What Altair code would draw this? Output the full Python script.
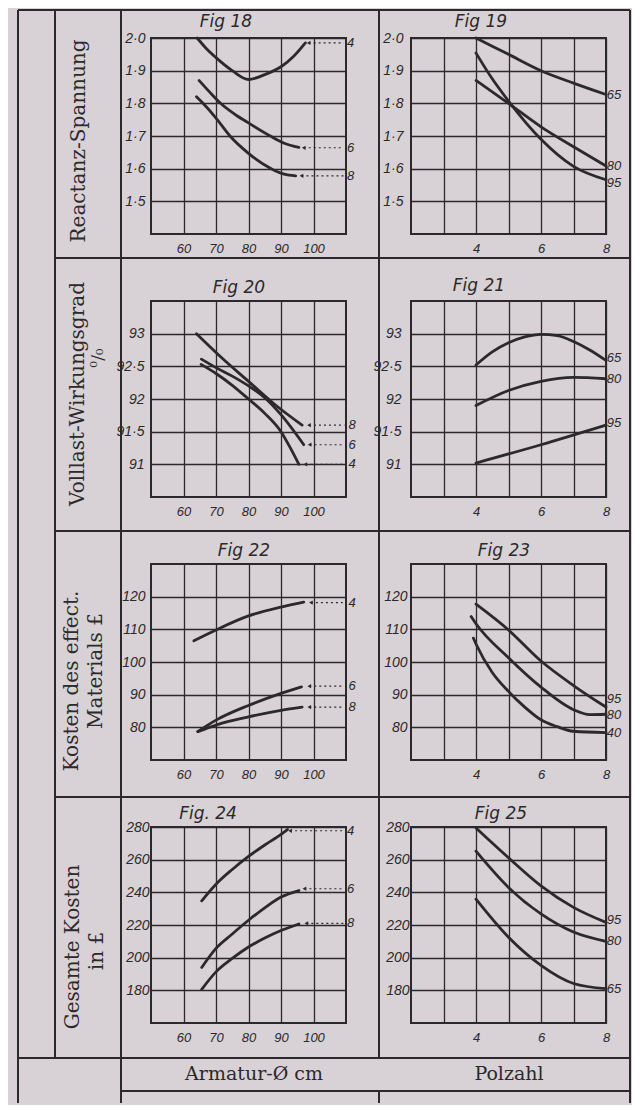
import altair as alt
import pandas as pd

INK = "#2b292c"
BG = "#d8d1d5"
SERIF = "DejaVu Serif"
HAND = "Liberation Sans"

# ---------------- data ----------------
# Fig 18  Reactanz-Spannung vs Armatur-Ø, curves for Polzahl 4, 6, 8
f18_4_x = [64.2, 67, 70, 75, 80, 85, 90, 94, 97.5]
f18_4_y = [2.0, 1.968, 1.94, 1.90, 1.873, 1.888, 1.912, 1.945, 1.985]
f18_6_x = [64.8, 68, 71.4, 76, 80, 86.7, 91, 95.5]
f18_6_y = [1.87, 1.835, 1.80, 1.765, 1.74, 1.70, 1.678, 1.665]
f18_8_x = [64, 66, 70, 74.3, 80, 87, 91, 94.5]
f18_8_y = [1.82, 1.80, 1.755, 1.70, 1.647, 1.60, 1.583, 1.578]

# Fig 19  Reactanz-Spannung vs Polzahl, curves for Armatur 65, 80, 95
f19_65_x = [4, 5, 6, 7, 8]
f19_65_y = [2.0, 1.95, 1.90, 1.862, 1.827]
f19_80_x = [4, 5, 6, 7, 8]
f19_80_y = [1.87, 1.80, 1.728, 1.667, 1.608]
f19_95_x = [4, 4.5, 5, 6, 7, 8]
f19_95_y = [1.954, 1.875, 1.807, 1.69, 1.607, 1.566]

# Fig 20  Volllast-Wirkungsgrad vs Armatur-Ø
f20_8_x = [64, 72, 80, 88, 96.5]
f20_8_y = [93.0, 92.62, 92.27, 91.92, 91.6]
f20_6_x = [65.5, 70, 75, 80, 85, 90, 97]
f20_6_y = [92.61, 92.48, 92.35, 92.2, 92.02, 91.76, 91.3]
f20_4_x = [65.4, 70, 75, 80, 85, 90, 93, 95.5]
f20_4_y = [92.53, 92.39, 92.21, 92.0, 91.78, 91.5, 91.24, 91.0]

# Fig 21  Volllast-Wirkungsgrad vs Polzahl
f21_65_x = [4, 4.5, 5, 5.5, 6, 6.5, 7, 7.5, 8]
f21_65_y = [92.52, 92.72, 92.86, 92.95, 92.99, 92.97, 92.88, 92.75, 92.59]
f21_80_x = [4, 5, 6, 7, 8]
f21_80_y = [91.9, 92.13, 92.27, 92.33, 92.31]
f21_95_x = [4, 6, 8]
f21_95_y = [91.02, 91.3, 91.6]

# Fig 22  Kosten des effect. Materials vs Armatur-Ø
f22_4_x = [63.2, 70, 80, 90, 97]
f22_4_y = [106.5, 109.8, 114.1, 116.8, 118.3]
f22_6_x = [64.4, 70, 80, 90, 96.3]
f22_6_y = [78.7, 82.2, 86.7, 90.4, 92.4]
f22_8_x = [64.4, 70, 80, 90, 96.5]
f22_8_y = [78.7, 80.7, 83.2, 85.2, 86.2]

# Fig 23  Kosten des effect. Materials vs Polzahl
f23_95_x = [4, 5, 6, 7, 8]
f23_95_y = [117.7, 109.8, 100.3, 92.8, 86.2]
f23_80_x = [3.85, 4, 5, 6, 7, 7.5, 8]
f23_80_y = [113.9, 111.7, 101.3, 92.3, 85.4, 83.9, 84.0]
f23_40_x = [3.92, 4, 4.5, 5, 5.5, 6, 6.5, 7, 8]
f23_40_y = [107.3, 105.5, 96.8, 91.0, 86.2, 82.3, 80.2, 78.8, 78.4]

# Fig 24  Gesamte Kosten vs Armatur-Ø
f24_4_x = [65.6, 70, 75, 80, 85, 90, 92]
f24_4_y = [234.8, 245, 254, 262, 269, 275.5, 278.5]
f24_6_x = [65.6, 70, 75, 80, 85, 90, 95.5]
f24_6_y = [194, 205.7, 214.5, 222.9, 230.5, 237.1, 241.1]
f24_8_x = [65.6, 70, 75, 80, 85, 90, 95.5]
f24_8_y = [180.6, 191.3, 199.5, 206.5, 212, 216.6, 220.6]

# Fig 25  Gesamte Kosten vs Polzahl
f25_95_x = [4, 5, 6, 7, 8]
f25_95_y = [279.4, 261.2, 244, 230.8, 221.6]
f25_80_x = [4, 5, 6, 7, 8]
f25_80_y = [265.2, 243, 226.8, 215.7, 210]
f25_65_x = [4, 5, 6, 7, 8]
f25_65_y = [235.8, 212.5, 195.3, 184.2, 181]

# curve end labels (text, label x, label y) and dotted leaders (start x, end x)
f18_lab = [("4", 110.3, 1.985, 98.5, 109.3), ("6", 110.3, 1.664, 97.0, 109.3), ("8", 110.3, 1.578, 96.3, 109.3)]
f20_lab = [("8", 110.8, 91.6, 98.6, 109.5), ("6", 110.8, 91.3, 98.8, 109.5), ("4", 110.8, 91.0, 97.5, 109.5)]
f22_lab = [("4", 110.8, 118.2, 99.2, 109.0), ("6", 110.8, 92.6, 98.7, 109.0), ("8", 110.8, 86.2, 98.7, 109.0)]
f24_lab = [("4", 110.3, 277.7, 92.8, 109.3), ("6", 110.3, 242.2, 97.2, 109.3), ("8", 110.3, 221.0, 97.8, 109.3)]
f19_lab = [("65", 8.02, 1.827), ("80", 8.02, 1.607), ("95", 8.02, 1.556)]
f21_lab = [("65", 8.02, 92.63), ("80", 8.02, 92.31), ("95", 8.02, 91.63)]
f23_lab = [("95", 8.02, 88.6), ("80", 8.02, 83.8), ("40", 8.02, 78.4)]
f25_lab = [("95", 8.02, 223.0), ("80", 8.02, 210.5), ("65", 8.02, 181.0)]

# axes
X_ARM = dict(domain=[50, 110], values=[60, 70, 80, 90, 100], expr="format(datum.value, 'd')")
X_POL = dict(domain=[2, 8], values=[3, 4, 5, 6, 7, 8],
             expr="datum.value % 2 == 0 ? format(datum.value, 'd') : ''")
Y_RS = dict(domain=[1.4, 2.0], values=[1.5, 1.6, 1.7, 1.8, 1.9, 2.0],
            expr="replace(format(datum.value, '.1f'), '.', '·')")
Y_EFF = dict(domain=[90.5, 93.5], values=[91, 91.5, 92, 92.5, 93],
             expr="datum.value % 1 == 0 ? format(datum.value, 'd') : replace(format(datum.value, '.1f'), '.', '·')")
Y_MAT = dict(domain=[70, 130], values=[80, 90, 100, 110, 120], expr="format(datum.value, 'd')")
Y_TOT = dict(domain=[160, 280], values=[180, 200, 220, 240, 260, 280], expr="format(datum.value, 'd')")

ONE = pd.DataFrame({"k": [0]})


def series_df(series):
    rows = []
    for name, xs, ys in series:
        for i, (a, b) in enumerate(zip(xs, ys)):
            rows.append({"s": name, "x": a, "y": b, "i": i})
    return pd.DataFrame(rows)


def rule(x1, x2, y1, y2, w=2.0):
    return alt.Chart(ONE).mark_rule(color=INK, strokeWidth=w).encode(
        x=alt.value(x1), x2=alt.value(x2), y=alt.value(y1), y2=alt.value(y2))


def txt(text, x, y, size, angle=0, font=SERIF, style="normal"):
    return alt.Chart(ONE).mark_text(
        text=text, angle=angle, font=font, fontSize=size, fontStyle=style,
        color=INK, align="center", baseline="middle").encode(x=alt.value(x), y=alt.value(y))


def panel(title, tpos, xd, yd, series, end_labels, leaders, ypad, extra=None):
    xs = alt.Scale(domain=xd["domain"], nice=False, zero=False)
    ys = alt.Scale(domain=yd["domain"], nice=False, zero=False)
    xax = alt.Axis(values=xd["values"], labelExpr=xd["expr"], grid=True, gridColor=INK,
                   gridWidth=1.3, gridOpacity=1, domain=False, ticks=False, tickSize=0,
                   labelFont=HAND, labelFontStyle="italic", labelFontSize=13, labelColor=INK,
                   labelPadding=8, labelFlush=False, labelOverlap=False, title=None)
    yax = alt.Axis(values=yd["values"], labelExpr=yd["expr"], grid=True, gridColor=INK,
                   gridWidth=1.3, gridOpacity=1, domain=False, ticks=False, tickSize=0,
                   labelFont=HAND, labelFontStyle="italic", labelFontSize=14, labelColor=INK,
                   labelPadding=ypad, labelFlush=False, labelOverlap=False, title=None)
    df = series_df(series)
    lines = alt.Chart(df).mark_line(interpolate="monotone", color=INK, strokeWidth=2.8,
                                    strokeCap="round").encode(
        x=alt.X("x:Q", scale=xs, axis=xax), y=alt.Y("y:Q", scale=ys, axis=yax),
        detail="s:N", order="i:Q")
    layers = [lines]
    ldf = pd.DataFrame({"t": [l[0] for l in end_labels], "x": [l[1] for l in end_labels],
                        "y": [l[2] for l in end_labels]})
    layers.append(alt.Chart(ldf).mark_text(align="left", baseline="middle", font=HAND,
                                           fontStyle="italic", fontSize=13, color=INK).encode(
        x=alt.X("x:Q", scale=xs, axis=xax), y=alt.Y("y:Q", scale=ys, axis=yax), text="t:N"))
    if leaders:
        adf = pd.DataFrame({"x": [l[3] for l in end_labels], "xe": [l[4] for l in end_labels],
                            "y": [l[2] for l in end_labels]})
        layers.append(alt.Chart(adf).mark_rule(color=INK, strokeWidth=1.2, strokeDash=[2, 3]).encode(
            x=alt.X("x:Q", scale=xs, axis=xax), x2="xe:Q", y=alt.Y("y:Q", scale=ys, axis=yax)))
        layers.append(alt.Chart(adf).mark_point(shape="triangle-left", filled=True, size=18,
                                                color=INK, opacity=1).encode(
            x=alt.X("x:Q", scale=xs, axis=xax), y=alt.Y("y:Q", scale=ys, axis=yax)))
    layers.append(txt(title, tpos[0], tpos[1], 17, font="DejaVu Sans", style="italic"))
    if extra:
        layers.extend(extra)
    return alt.layer(*layers).properties(width=195, height=196)


# table ruling, row headings and column headings (pixel offsets from Fig 18's plot corner)
table = [
    rule(-133, -133, -28, 1065), rule(-96, -96, -28, 1020), rule(-30, -30, -28, 1065),
    rule(228, 228, -28, 1020), rule(228, 228, 1053, 1065), rule(479, 479, -28, 1065),
    rule(-133, 479, -28, -28), rule(-96, 479, 220, 220), rule(-96, 479, 493, 493),
    rule(-96, 479, 759, 759), rule(-133, 479, 1020, 1020), rule(-30, 479, 1053, 1053),
    txt("Reactanz-Spannung", -72, 103, 20, angle=270),
    txt("Volllast-Wirkungsgrad", -73, 356, 20, angle=270),
    txt("⁰/₀", -53, 320, 17, angle=270),
    txt("Kosten des effect.", -79, 643, 20, angle=270),
    txt("Materials £", -55, 633, 20, angle=270),
    txt("Gesamte Kosten", -78, 909, 20, angle=270),
    txt("in £", -54, 913, 20, angle=270),
    txt("Armatur-Ø cm", 103, 1036, 19),
    txt("Polzahl", 358, 1036, 19),
]

p18 = panel("Fig 18", (75, -16), X_ARM, Y_RS,
            [("4", f18_4_x, f18_4_y), ("6", f18_6_x, f18_6_y), ("8", f18_8_x, f18_8_y)],
            f18_lab, True, 6, extra=table)
p19 = panel("Fig 19", (70, -16), X_POL, Y_RS,
            [("65", f19_65_x, f19_65_y), ("80", f19_80_x, f19_80_y), ("95", f19_95_x, f19_95_y)],
            f19_lab, False, 8)
p20 = panel("Fig 20", (88, -13), X_ARM, Y_EFF,
            [("8", f20_8_x, f20_8_y), ("6", f20_6_x, f20_6_y), ("4", f20_4_x, f20_4_y)],
            f20_lab, True, 7)
p21 = panel("Fig 21", (68, -15), X_POL, Y_EFF,
            [("65", f21_65_x, f21_65_y), ("80", f21_80_x, f21_80_y), ("95", f21_95_x, f21_95_y)],
            f21_lab, False, 10)
p22 = panel("Fig 22", (93, -13), X_ARM, Y_MAT,
            [("4", f22_4_x, f22_4_y), ("6", f22_6_x, f22_6_y), ("8", f22_8_x, f22_8_y)],
            f22_lab, True, 6)
p23 = panel("Fig 23", (93, -13), X_POL, Y_MAT,
            [("95", f23_95_x, f23_95_y), ("80", f23_80_x, f23_80_y), ("40", f23_40_x, f23_40_y)],
            f23_lab, False, 4)
p24 = panel("Fig. 24", (57, -13), X_ARM, Y_TOT,
            [("4", f24_4_x, f24_4_y), ("6", f24_6_x, f24_6_y), ("8", f24_8_x, f24_8_y)],
            f24_lab, True, 2)
p25 = panel("Fig 25", (90, -13), X_POL, Y_TOT,
            [("95", f25_95_x, f25_95_y), ("80", f25_80_x, f25_80_y), ("65", f25_65_x, f25_65_y)],
            f25_lab, False, 2)

chart = alt.concat(p18, p19, p20, p21, p22, p23, p24, p25, columns=2,
                   spacing={"row": 67, "column": 65}, bounds="flush").properties(
    padding={"left": 8, "top": 0, "right": 0, "bottom": 0}, background=BG
).configure_view(stroke=INK, strokeWidth=2)

chart.save("out.html", embed_options={"renderer": "svg", "actions": False})
